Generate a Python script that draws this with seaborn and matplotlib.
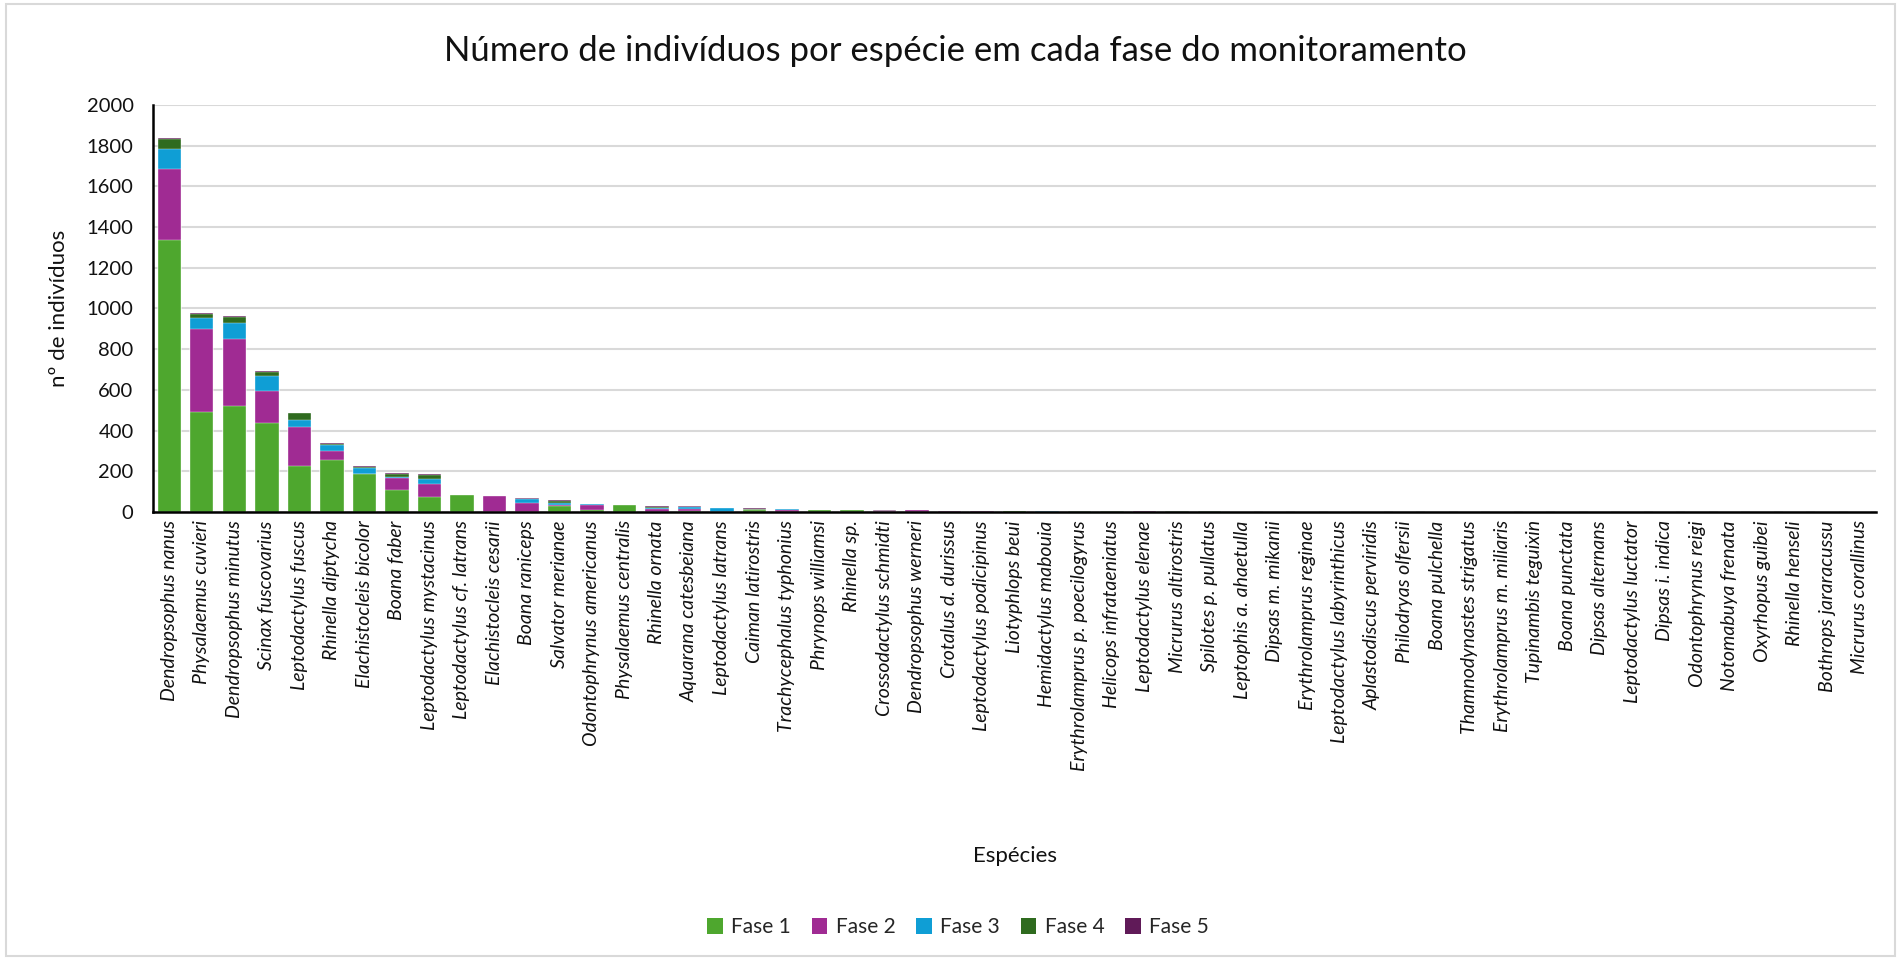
import matplotlib
matplotlib.use("Agg")
import matplotlib.pyplot as plt
import seaborn as sns
import numpy as np
from matplotlib.patches import Patch, Rectangle

species = [
    "Dendropsophus nanus", "Physalaemus cuvieri", "Dendropsophus minutus", "Scinax fuscovarius",
    "Leptodactylus fuscus", "Rhinella diptycha", "Elachistocleis bicolor", "Boana faber",
    "Leptodactylus mystacinus", "Leptodactylus cf. latrans", "Elachistocleis cesarii", "Boana raniceps",
    "Salvator merianae", "Odontophrynus americanus", "Physalaemus centralis", "Rhinella ornata",
    "Aquarana catesbeiana", "Leptodactylus latrans", "Caiman latirostris", "Trachycephalus typhonius",
    "Phrynops williamsi", "Rhinella sp.", "Crossodactylus schmidti", "Dendropsophus werneri",
    "Crotalus d. durissus", "Leptodactylus podicipinus", "Liotyphlops beui", "Hemidactylus mabouia",
    "Erythrolamprus p. poecilogyrus", "Helicops infrataeniatus", "Leptodactylus elenae", "Micrurus altirostris",
    "Spilotes p. pullatus", "Leptophis a. ahaetulla", "Dipsas m. mikanii", "Erythrolamprus reginae",
    "Leptodactylus labyrinthicus", "Aplastodiscus perviridis", "Philodryas olfersii", "Boana pulchella",
    "Thamnodynastes strigatus", "Erythrolamprus m. miliaris", "Tupinambis teguixin", "Boana punctata",
    "Dipsas alternans", "Leptodactylus luctator", "Dipsas i. indica", "Odontophrynus reigi",
    "Notomabuya frenata", "Oxyrhopus guibei", "Rhinella henseli", "Bothrops jararacussu",
    "Micrurus corallinus",
]

fase1 = [1339, 490, 520, 436, 228, 257, 189, 107, 73, 85, 0, 0, 30, 8, 33, 0, 3, 2, 12, 0,
         10, 10, 0, 0, 2, 0, 3, 0, 0, 0, 0, 0, 0, 0, 0, 0, 2, 2, 0, 1,
         0, 0, 1, 1, 0, 0, 0, 1, 0, 0, 0, 0, 0]
fase2 = [348, 410, 328, 157, 190, 43, 0, 60, 65, 0, 80, 43, 6, 25, 0, 16, 13, 0, 0, 12,
         0, 0, 3, 8, 2, 6, 0, 0, 0, 0, 5, 0, 0, 0, 2, 0, 0, 0, 0, 0,
         0, 0, 0, 0, 0, 1, 0, 0, 0, 0, 1, 0, 0]
fase3 = [95, 51, 83, 77, 33, 31, 29, 5, 23, 0, 0, 19, 10, 6, 0, 5, 9, 18, 0, 4,
         0, 0, 0, 0, 0, 0, 2, 5, 2, 2, 0, 0, 0, 0, 0, 2, 0, 0, 0, 0,
         1, 0, 0, 0, 0, 0, 0, 0, 1, 0, 0, 0, 0]
fase4 = [49, 21, 26, 19, 33, 5, 4, 15, 22, 0, 0, 3, 8, 0, 0, 4, 0, 0, 5, 0,
         0, 0, 0, 0, 2, 0, 0, 0, 2, 2, 0, 3, 3, 2, 0, 0, 0, 0, 1, 0,
         0, 1, 0, 0, 0, 0, 1, 0, 0, 0, 0, 1, 0]
fase5 = [5, 5, 5, 3, 3, 3, 2, 3, 6, 0, 0, 2, 5, 1, 0, 2, 2, 0, 1, 0,
         0, 0, 5, 0, 0, 0, 0, 0, 0, 0, 0, 0, 0, 0, 0, 0, 0, 0, 0, 0,
         0, 0, 0, 0, 1, 0, 0, 0, 0, 1, 0, 0, 1]

phase_names = ["Fase 1", "Fase 2", "Fase 3", "Fase 4", "Fase 5"]
phase_colors = ["#4EA72E", "#A02B93", "#0F9ED5", "#2F6B1F", "#601A58"]

sns.set_theme(style="white")
plt.rcParams["font.family"] = ["Lato", "DejaVu Sans"]

fig = plt.figure(figsize=(19.01, 9.60), dpi=100)
ax = fig.add_axes([0.0805, 0.4667, 0.9063, 0.4239])

layers = [fase1, fase2, fase3, fase4, fase5]
cum = np.cumsum(np.array(layers, dtype=float), axis=0)
for k in range(4, -1, -1):
    sns.barplot(x=species, y=cum[k], order=species, color=phase_colors[k], width=0.72,
                edgecolor="white", linewidth=0.25, saturation=1, ax=ax, zorder=3)

ax.set_ylim(0, 2000)
ax.set_xlim(-0.5, len(species) - 0.5)
ax.set_yticks(range(0, 2001, 200))
ax.yaxis.grid(True, color="#d9d9d9", linewidth=1.5, zorder=0)
ax.set_axisbelow(True)
for s in ["top", "right"]:
    ax.spines[s].set_visible(False)
ax.spines["left"].set_color("black")
ax.spines["left"].set_linewidth(1.8)
ax.spines["bottom"].set_color("black")
ax.spines["bottom"].set_linewidth(1.8)
ax.spines["left"].set_zorder(5)
ax.spines["bottom"].set_zorder(5)
ax.tick_params(axis="x", length=0, pad=6)
ax.tick_params(axis="y", length=0, pad=14, labelsize=14.5, colors="#111111")
ax.set_xticks(range(len(species)))
ax.set_xticklabels(species, rotation=90, style="italic", fontsize=14, color="#111111",
                   ha="center", va="top")

ax.set_ylabel("nº de indivíduos", fontsize=16, color="#111111", labelpad=13)
ax.set_xlabel("")
fig.text(0.534, 0.108, "Espécies", ha="center", va="center", fontsize=16, color="#111111")
fig.text(0.5025, 0.947, "Número de indivíduos por espécie em cada fase do monitoramento",
         ha="center", va="center", fontsize=25, color="#111111")

handles = [Patch(facecolor=c, edgecolor="none", label=n) for n, c in zip(phase_names, phase_colors)]
fig.legend(handles=handles, loc="center", bbox_to_anchor=(0.504, 0.034), ncol=5, frameon=False,
           fontsize=15, handlelength=0.75, handleheight=0.75, handletextpad=0.4, columnspacing=1.0)

fig.patches.append(Rectangle((0.003, 0.004), 0.994, 0.992, transform=fig.transFigure,
                             fill=False, edgecolor="#d9d9d9", linewidth=1.5))

fig.savefig("out.png", dpi=100)
